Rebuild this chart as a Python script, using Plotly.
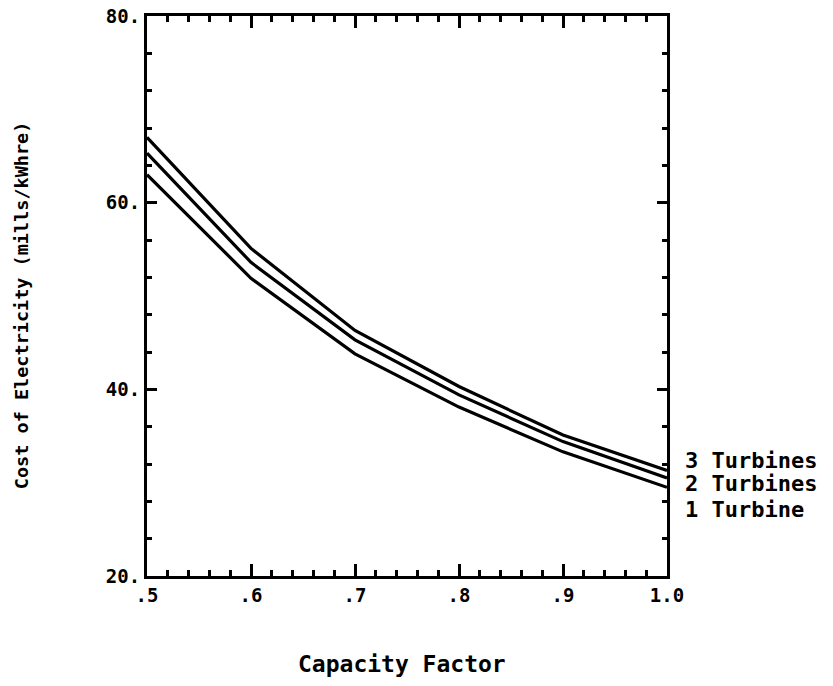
import plotly.graph_objects as go

# Capacity factor vs. cost of electricity for 1, 2 and 3 turbines
capacity_factor = [0.5, 0.6, 0.7, 0.8, 0.9, 1.0]
cost_1_turbine = [63.0, 51.9, 43.8, 38.1, 33.3, 29.5]
cost_2_turbines = [65.3, 53.6, 45.3, 39.4, 34.4, 30.5]
cost_3_turbines = [67.0, 55.1, 46.3, 40.3, 35.1, 31.3]

series_labels = ["1 Turbine", "2 Turbines", "3 Turbines"]
label_y = [27.1, 29.9, 32.4]

x_tick_vals = [0.5, 0.6, 0.7, 0.8, 0.9, 1.0]
x_tick_text = [".5", ".6", ".7", ".8", ".9", "1.0"]
y_tick_vals = [20, 40, 60, 80]
y_tick_text = ["20.", "40.", "60.", "80."]

FONT = "DejaVu Sans Mono"

fig = go.Figure()
for ys in (cost_1_turbine, cost_2_turbines, cost_3_turbines):
    fig.add_trace(go.Scatter(
        x=capacity_factor, y=ys, mode="lines",
        line=dict(color="black", width=3.2),
        showlegend=False, hoverinfo="skip",
    ))

for txt, yv in zip(series_labels, label_y):
    fig.add_annotation(
        x=1.0, y=yv, xref="x", yref="y", text=txt, showarrow=False,
        xanchor="left", yanchor="middle", xshift=16,
        font=dict(family=FONT, size=22, color="black", weight="bold"),
    )

fig.add_annotation(
    x=-0.24, y=0.484, xref="paper", yref="paper",
    text="Cost of Electricity (mills/kWhre)", showarrow=False, textangle=-90,
    xanchor="center", yanchor="middle",
    font=dict(family=FONT, size=18.5, color="black", weight="bold"),
)
fig.add_annotation(
    x=0.49, y=-0.158, xref="paper", yref="paper",
    text="Capacity Factor", showarrow=False,
    xanchor="center", yanchor="middle",
    font=dict(family=FONT, size=23, color="black", weight="bold"),
)

axis_common = dict(
    showline=True, linecolor="black", linewidth=3, mirror="ticks",
    ticks="inside", tickcolor="black", tickwidth=2.5,
    showgrid=False, zeroline=False, automargin=False,
    tickfont=dict(family=FONT, size=19, color="black", weight="bold"),
)

fig.update_xaxes(
    range=[0.5, 1.0], tickvals=x_tick_vals, ticktext=x_tick_text,
    ticklen=12,
    minor=dict(dtick=0.02, tick0=0.5, ticks="inside", ticklen=6,
               tickcolor="black", tickwidth=2.5),
    **axis_common,
)
fig.update_yaxes(
    range=[20, 80], tickvals=y_tick_vals, ticktext=y_tick_text,
    ticklen=10,
    minor=dict(dtick=4, tick0=20, ticks="inside", ticklen=5,
               tickcolor="black", tickwidth=2.5),
    **axis_common,
)

fig.update_layout(
    width=833, height=686,
    margin=dict(l=147, r=166, t=16, b=110),
    paper_bgcolor="white", plot_bgcolor="white",
)

fig.write_html("out.html")
